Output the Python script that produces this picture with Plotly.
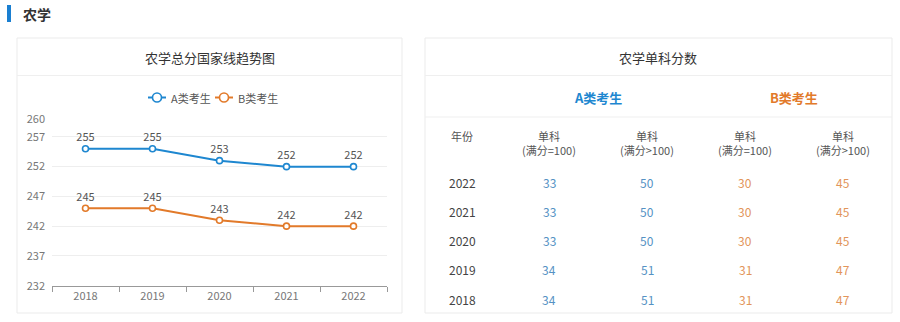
import plotly.graph_objects as go

W, H = 900, 322
FONT = "Noto Sans CJK SC, Microsoft YaHei, sans-serif"

years = ["2018", "2019", "2020", "2021", "2022"]
series_names = ["A类考生", "B类考生"]
score_a = [255, 255, 253, 252, 252]
score_b = [245, 245, 243, 242, 242]
y_ticks = [232, 237, 242, 247, 252, 257, 260]

table_years = ["2022", "2021", "2020", "2019", "2018"]
a_eq100 = [33, 33, 33, 34, 34]
a_gt100 = [50, 50, 50, 51, 51]
b_eq100 = [30, 30, 30, 31, 31]
b_gt100 = [45, 45, 45, 47, 47]
col_headers = ["年份", "单科<br>(满分=100)", "单科<br>(满分>100)", "单科<br>(满分=100)", "单科<br>(满分>100)"]

BLUE = "#1e87d0"
ORANGE = "#e27a2a"
BLUE_T = "#5592c4"
ORANGE_T = "#e2955a"


def px(x):
    return x / W


def py(y):
    return 1 - y / H


fig = go.Figure()
for name, vals, col in [(series_names[0], score_a, BLUE), (series_names[1], score_b, ORANGE)]:
    fig.add_trace(go.Scatter(
        x=years, y=vals, name=name, mode="lines+markers+text",
        text=[str(v) for v in vals], textposition="top center",
        textfont=dict(size=11, color="#555", family=FONT),
        line=dict(color=col, width=2),
        marker=dict(symbol="circle", size=6, color="white", line=dict(color=col, width=1.6)),
        showlegend=False,
    ))

shapes = []
ann = []
# header accent bar
shapes.append(dict(type="rect", xref="paper", yref="paper", x0=px(7), x1=px(11), y0=py(22), y1=py(5),
                   fillcolor="#1a7fd1", line=dict(width=0)))
# cards
for (x0, x1) in [(17, 402), (425, 892)]:
    shapes.append(dict(type="rect", xref="paper", yref="paper", x0=px(x0), x1=px(x1), y0=py(313), y1=py(38),
                       fillcolor="rgba(0,0,0,0)", line=dict(color="#ebebeb", width=1)))
    shapes.append(dict(type="line", xref="paper", yref="paper", x0=px(x0), x1=px(x1), y0=py(75.5), y1=py(75.5),
                       line=dict(color="#efefef", width=1)))
shapes.append(dict(type="line", xref="paper", yref="paper", x0=px(425), x1=px(892), y0=py(117), y1=py(117),
                   line=dict(color="#efefef", width=1)))

# custom compact legend (echarts style)
leg_y = 97.5
for i, (name, col) in enumerate(zip(series_names, [BLUE, ORANGE])):
    lx = 148 + i * 67
    shapes.append(dict(type="line", xref="paper", yref="paper", x0=px(lx), x1=px(lx + 18),
                       y0=py(leg_y), y1=py(leg_y), line=dict(color=col, width=2)))
    shapes.append(dict(type="circle", xref="paper", yref="paper", x0=px(lx + 4.5), x1=px(lx + 13.5),
                       y0=py(leg_y + 4.5), y1=py(leg_y - 4.5), fillcolor="white",
                       line=dict(color=col, width=1.6)))
    ann.append(dict(text=name, x=px(lx + 21), y=py(leg_y), xref="paper", yref="paper", xanchor="left",
                    yanchor="middle", showarrow=False, font=dict(size=11, color="#555", family=FONT)))

ann.append(dict(text="<b>农学</b>", x=px(21), y=py(14), xref="paper", yref="paper", xanchor="left",
                yanchor="middle", showarrow=False, font=dict(size=14, color="#333", family=FONT)))
ann.append(dict(text="农学总分国家线趋势图", x=px(210), y=py(57), xref="paper", yref="paper",
                xanchor="center", yanchor="middle", showarrow=False, font=dict(size=13, color="#333", family=FONT)))
ann.append(dict(text="农学单科分数", x=px(658), y=py(57), xref="paper", yref="paper",
                xanchor="center", yanchor="middle", showarrow=False, font=dict(size=13, color="#333", family=FONT)))
ann.append(dict(text="<b>" + series_names[0] + "</b>", x=px(598), y=py(97), xref="paper", yref="paper",
                xanchor="center", yanchor="middle", showarrow=False, font=dict(size=13, color=BLUE, family=FONT)))
ann.append(dict(text="<b>" + series_names[1] + "</b>", x=px(794), y=py(97), xref="paper", yref="paper",
                xanchor="center", yanchor="middle", showarrow=False, font=dict(size=13, color=ORANGE, family=FONT)))

col_x = [462, 549, 647, 745, 843]
for i, h in enumerate(col_headers):
    yy = 136 if i == 0 else 143
    ann.append(dict(text=h, x=px(col_x[i]), y=py(yy), xref="paper", yref="paper", xanchor="center",
                    yanchor="middle", showarrow=False, font=dict(size=11, color="#555", family=FONT)))

row_y = [182, 211, 240.5, 269.5, 299]
cols = [(table_years, "#444"), (a_eq100, BLUE_T), (a_gt100, BLUE_T), (b_eq100, ORANGE_T), (b_gt100, ORANGE_T)]
for ci, (vals, colr) in enumerate(cols):
    for ri, v in enumerate(vals):
        ann.append(dict(text=str(v), x=px(col_x[ci]), y=py(row_y[ri]), xref="paper", yref="paper",
                        xanchor="center", yanchor="middle", showarrow=False,
                        font=dict(size=12, color=colr, family=FONT)))

fig.update_layout(
    width=W, height=H, margin=dict(l=0, r=0, t=0, b=0, pad=0, autoexpand=False),
    paper_bgcolor="white", plot_bgcolor="white",
    font=dict(family=FONT, size=11, color="#666"),
    showlegend=False,
    xaxis=dict(domain=[px(52), px(387)], type="category", range=[-0.5, 4.5],
               showline=True, linecolor="#999", linewidth=1, ticks="outside", tickson="boundaries",
               ticklen=5, tickcolor="#999", showgrid=False, tickfont=dict(size=11, color="#777"),
               fixedrange=True),
    yaxis=dict(domain=[py(285.7), py(119)], range=[232, 260], tickvals=y_ticks,
               showgrid=True, gridcolor="#eeeeee", gridwidth=1, zeroline=False, showline=False,
               ticks="", ticklabelstandoff=6, tickfont=dict(size=11, color="#777")),
    shapes=shapes, annotations=ann,
)

fig.write_html("out.html")
